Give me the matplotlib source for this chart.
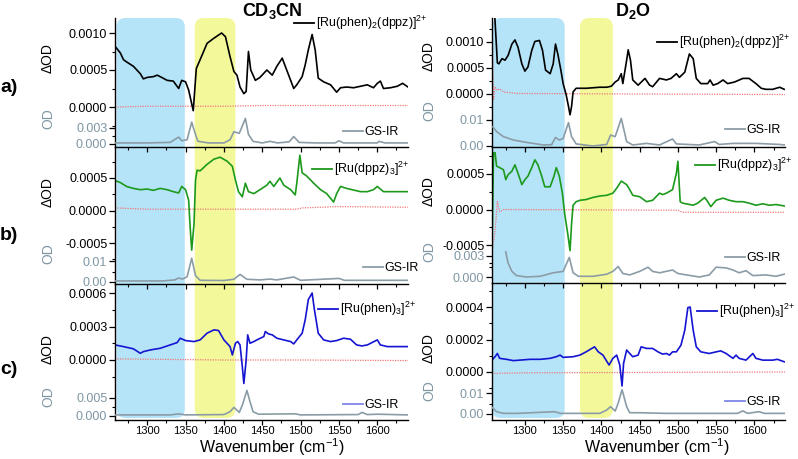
import matplotlib
matplotlib.use("Agg")
import matplotlib.pyplot as plt
from matplotlib.patches import FancyBboxPatch
from matplotlib.lines import Line2D
from matplotlib.ticker import FixedLocator, FormatStrFormatter

plt.rcParams['font.family'] = ['Liberation Sans', 'DejaVu Sans']
plt.rcParams['mathtext.fontset'] = 'custom'
plt.rcParams['mathtext.rm'] = 'Liberation Sans'
plt.rcParams['mathtext.it'] = 'Liberation Sans:italic'
plt.rcParams['mathtext.bf'] = 'Liberation Sans:bold'
plt.rcParams['axes.unicode_minus'] = False

# ---------------- data ----------------
# CD3CN, [Ru(phen)2(dppz)]2+
a1_wn = [1258, 1265, 1269, 1273, 1282, 1291, 1295, 1300, 1308, 1313, 1317, 1326, 1334, 1341, 1345,
         1350, 1354, 1357, 1360, 1361, 1364, 1369, 1378, 1387, 1397, 1402, 1408, 1413, 1417, 1421,
         1426, 1429, 1432, 1435, 1441, 1447, 1456, 1463, 1469, 1476, 1480, 1487, 1491, 1495, 1502,
         1506, 1510, 1515, 1519, 1523, 1530, 1539, 1547, 1552, 1560, 1569, 1578, 1587, 1595, 1600,
         1604, 1608, 1617, 1626, 1633, 1640]
a1_dod = [0.00082, 0.00073, 0.00064, 0.00061, 0.00055, 0.00045, 0.00038, 0.00040, 0.00041, 0.00043,
          0.00041, 0.00036, 0.00035, 0.00025, 0.00036, 0.00034, 0.00023, 0.00009, -0.00005, 0.00009,
          0.00052, 0.00064, 0.00086, 0.00093, 0.00100, 0.00095, 0.00068, 0.00048, 0.00043, 0.00027,
          0.00018, 0.00021, 0.00075, 0.00050, 0.00036, 0.00040, 0.00050, 0.00043, 0.00055, 0.00066,
          0.00055, 0.00036, 0.00025, 0.00030, 0.00041, 0.00057, 0.00077, 0.00098, 0.00077, 0.00039,
          0.00034, 0.00030, 0.00020, 0.00026, 0.00027, 0.00026, 0.00028, 0.00030, 0.00026, 0.00032,
          0.00035, 0.00025, 0.00026, 0.00028, 0.00032, 0.00027]
a1_base_wn = [1258, 1300, 1350, 1400, 1450, 1500, 1550, 1600, 1640]
a1_base = [0.0, 0.00001, 0.00001, 0.00001, 0.00002, 0.00002, 0.00002, 0.00002, 0.00002]
a1_gs_wn = [1258, 1300, 1330, 1341, 1345, 1352, 1358, 1362, 1366, 1380, 1400, 1408, 1413, 1420, 1428,
            1432, 1438, 1450, 1460, 1470, 1485, 1491, 1498, 1520, 1545, 1550, 1556, 1600, 1602, 1610, 1640]
a1_gs = [0.0002, 0.0002, 0.0003, 0.0013, 0.0006, 0.0008, 0.0041, 0.0022, 0.0005, 0.0002, 0.0002,
         0.0008, 0.0023, 0.0020, 0.0048, 0.0018, 0.0005, 0.0002, 0.0005, 0.0002, 0.0004, 0.0014,
         0.0003, 0.0002, 0.0002, 0.0006, 0.0002, 0.0002, 0.0005, 0.0002, 0.0002]

# CD3CN, [Ru(dppz)3]2+
b1_wn = [1258, 1265, 1273, 1282, 1291, 1300, 1308, 1317, 1326, 1334, 1341, 1345, 1350, 1354, 1356,
         1358, 1361, 1363, 1365, 1369, 1378, 1387, 1395, 1404, 1411, 1415, 1419, 1424, 1428, 1432,
         1439, 1447, 1456, 1460, 1465, 1473, 1478, 1487, 1493, 1495, 1499, 1502, 1508, 1517, 1526,
         1534, 1543, 1547, 1552, 1560, 1578, 1587, 1595, 1600, 1608, 1630, 1640]
b1_dod = [0.00046, 0.00043, 0.00037, 0.00034, 0.00032, 0.00033, 0.00031, 0.00034, 0.00032, 0.00029,
          0.00027, 0.00037, 0.00032, 0.00016, -0.00026, -0.00061, -0.00021, 0.00047, 0.00062, 0.00061,
          0.00071, 0.00079, 0.00082, 0.00076, 0.00068, 0.00047, 0.00029, 0.00021, 0.00042, 0.00029,
          0.00026, 0.00032, 0.00039, 0.00045, 0.00037, 0.00050, 0.00039, 0.00032, 0.00024, 0.00042,
          0.00085, 0.00058, 0.00053, 0.00042, 0.00032, 0.00026, 0.00013, 0.00026, 0.00037, 0.00034,
          0.00029, 0.00029, 0.00032, 0.00037, 0.00029, 0.00029, 0.00029]
b1_base_wn = [1258, 1300, 1400, 1495, 1502, 1550, 1640]
b1_base = [0.00004, 0.00002, 0.00002, 0.00002, 0.00004, 0.00006, 0.00005]
b1_gs_wn = [1258, 1320, 1336, 1341, 1346, 1352, 1358, 1363, 1369, 1400, 1413, 1421, 1430, 1447, 1460,
            1469, 1491, 1500, 1550, 1557, 1640]
b1_gs = [0.0005, 0.0005, 0.0010, 0.0019, 0.0014, 0.0025, 0.0113, 0.0030, 0.0008, 0.0007, 0.0013,
         0.0036, 0.0013, 0.0010, 0.0014, 0.0010, 0.0024, 0.0008, 0.0017, 0.0008, 0.0008]

# CD3CN, [Ru(phen)3]2+
c1_wn = [1258, 1269, 1282, 1291, 1295, 1304, 1317, 1330, 1339, 1343, 1350, 1361, 1369, 1378, 1387,
         1393, 1400, 1408, 1411, 1415, 1418, 1421, 1424, 1426, 1429, 1431, 1434, 1439, 1443, 1452,
         1454, 1458, 1463, 1469, 1478, 1487, 1491, 1495, 1502, 1506, 1510, 1515, 1518, 1523, 1530,
         1539, 1547, 1556, 1565, 1573, 1580, 1587, 1600, 1604, 1613, 1630, 1640]
c1_dod = [0.000135, 0.00012, 0.0001, 0.00006, 0.000075, 0.00009, 0.000105, 0.000135, 0.000156, 0.000195,
          0.000174, 0.000165, 0.00018, 0.00024, 0.00027, 0.000264, 0.00018, 0.00012, 0.000045, 0.00015,
          0.000165, 0.000135, -0.00006, -0.00021, 0.0, 0.000225, 0.00015, 0.000165, 0.00018, 0.00021,
          0.000255, 0.000234, 0.000225, 0.000195, 0.00018, 0.000165, 0.000144, 0.00018, 0.00024, 0.00036,
          0.00054, 0.0006, 0.00045, 0.00024, 0.00018, 0.000165, 0.000174, 0.000195, 0.000186, 0.000135,
          0.000126, 0.000135, 0.00018, 0.000135, 0.00012, 0.00012, 0.00012]
c1_base_wn = [1258, 1400, 1500, 1640]
c1_base = [0.00001, 0.0, 0.0, -0.000005]
c1_gs_wn = [1258, 1330, 1341, 1350, 1400, 1408, 1413, 1420, 1424, 1430, 1434, 1438, 1445, 1493, 1500,
            1575, 1580, 1587, 1600, 1640]
c1_gs = [0.0003, 0.0003, 0.0006, 0.0003, 0.0004, 0.0012, 0.0024, 0.0010, 0.0030, 0.0071, 0.0040,
         0.0012, 0.0005, 0.0006, 0.0003, 0.0004, 0.0010, 0.0004, 0.0005, 0.0003]

# D2O, [Ru(phen)2(dppz)]2+
a2_wn = [1258, 1261, 1264, 1266, 1270, 1274, 1278, 1283, 1287, 1291, 1296, 1300, 1304, 1309, 1313,
         1319, 1323, 1327, 1333, 1337, 1340, 1343, 1347, 1350, 1354, 1357, 1359, 1361, 1363, 1367,
         1380, 1398, 1407, 1413, 1418, 1422, 1426, 1428, 1433, 1435, 1438, 1441, 1448, 1457, 1463,
         1467, 1476, 1485, 1491, 1498, 1502, 1509, 1515, 1520, 1524, 1530, 1539, 1542, 1546, 1552,
         1559, 1565, 1574, 1585, 1593, 1602, 1609, 1615, 1624, 1633, 1639]
a2_dod = [0.0020, 0.0014, 0.0006, 0.00058, 0.00068, 0.00065, 0.00074, 0.00096, 0.00104, 0.00090,
          0.00058, 0.00044, 0.00052, 0.00084, 0.00101, 0.00103, 0.00084, 0.00046, 0.00039, 0.00058,
          0.00096, 0.00077, 0.00046, 0.0002, -0.00002, -0.00024, -0.0004, -0.00024, 0.00004, 0.00011,
          0.00011, 0.00013, 0.00013, 0.00015, 0.00023, 0.00027, 0.00039, 0.0002, 0.00065, 0.00085,
          0.00065, 0.00027, 0.00017, 0.0003, 0.00017, 0.00014, 0.0003, 0.00027, 0.0003, 0.00039,
          0.00032, 0.00042, 0.00077, 0.00068, 0.0003, 0.0002, 0.0002, 0.00027, 0.00017, 0.0002,
          0.00027, 0.0002, 0.00023, 0.0003, 0.0003, 0.0002, 0.00011, 0.00009, 0.00009, 0.00013, 0.00009]
a2_base_wn = [1257, 1259, 1261, 1264, 1267, 1272, 1290, 1450, 1640]
a2_base = [0.0014, -0.0001, 0.00013, 0.00007, 0.0001, 0.00004, 0.00001, 0.0, -0.00001]
a2_gs_wn = [1258, 1263, 1272, 1285, 1302, 1324, 1335, 1337, 1340, 1345, 1350, 1357, 1361, 1367, 1389,
            1407, 1412, 1418, 1426, 1433, 1441, 1459, 1476, 1493, 1498, 1528, 1548, 1554, 1572, 1602,
            1633, 1639]
a2_gs = [0.0074, 0.0055, 0.0036, 0.0023, 0.0014, 0.0004, 0.0005, 0.0017, 0.0033, 0.0023, 0.0029,
         0.0090, 0.0036, 0.0008, 0.0000, 0.0006, 0.0042, 0.0036, 0.0106, 0.0017, 0.0004, 0.0010,
         0.0004, 0.0027, 0.0008, 0.0004, 0.0017, 0.0006, 0.0010, 0.0010, 0.0006, 0.0004]

# D2O, [Ru(dppz)3]2+
b2_wn = [1257, 1259, 1261, 1263, 1267, 1272, 1275, 1278, 1283, 1287, 1291, 1296, 1300, 1304, 1309,
         1313, 1317, 1322, 1326, 1333, 1338, 1341, 1345, 1349, 1352, 1356, 1359, 1361, 1363, 1367,
         1372, 1380, 1389, 1398, 1407, 1415, 1420, 1426, 1433, 1437, 1441, 1450, 1459, 1467, 1476,
         1480, 1485, 1493, 1498, 1500, 1503, 1506, 1520, 1526, 1535, 1539, 1543, 1550, 1559, 1567,
         1576, 1585, 1593, 1602, 1611, 1620, 1628, 1639]
b2_dod = [-0.00058, 0.0008, 0.0008, 0.00061, 0.00059, 0.00056, 0.00042, 0.00049, 0.00054, 0.00063,
          0.00051, 0.00035, 0.00042, 0.00047, 0.00059, 0.0007, 0.00063, 0.00047, 0.00032, 0.00032,
          0.00047, 0.00059, 0.00047, 0.00023, -0.00006, -0.00034, -0.00058, -0.0002, 0.00006, 0.00011,
          0.00013, 0.00014, 0.00017, 0.00019, 0.0002, 0.00023, 0.0003, 0.0004, 0.00035, 0.00028,
          0.0002, 0.00018, 0.00011, 0.00013, 0.00023, 0.00021, 0.00023, 0.00028, 0.00051, 0.00068,
          0.00011, 0.00009, 0.00006, 0.00009, 0.00017, 0.00011, 0.00004, 0.00013, 0.00016, 0.00013,
          0.00011, 0.00011, 0.00009, 0.00006, 0.00008, 0.00006, 0.00007, 0.00005]
b2_base_wn = [1257, 1261, 1264, 1267, 1272, 1500, 1506, 1639]
b2_base = [-0.0006, -0.0003, 0.00011, -0.00003, 0.0, -0.00001, -0.00004, -0.00004]
b2_gs_wn = [1275, 1278, 1283, 1289, 1302, 1320, 1337, 1350, 1358, 1363, 1370, 1389, 1407, 1415, 1422,
            1428, 1437, 1450, 1461, 1467, 1476, 1493, 1500, 1511, 1528, 1541, 1550, 1563, 1572, 1580,
            1589, 1598, 1615, 1628, 1639]
b2_gs = [0.0036, 0.0020, 0.0008, 0.0002, 0.0000, 0.0001, 0.0006, 0.0008, 0.0028, 0.0006, 0.0001,
         0.0001, 0.0004, 0.0008, 0.0015, 0.0005, 0.0003, 0.0008, 0.0014, 0.0008, 0.0006, 0.0010,
         0.0005, 0.0003, 0.0000, 0.0003, 0.0014, 0.0013, 0.0010, 0.0006, 0.0009, 0.0002, 0.0003,
         0.0001, 0.0004]

# D2O, [Ru(phen)3]2+
c2_wn = [1257, 1261, 1264, 1267, 1276, 1285, 1293, 1307, 1320, 1333, 1341, 1346, 1350, 1363, 1372,
         1380, 1391, 1396, 1402, 1410, 1415, 1420, 1424, 1427, 1429, 1433, 1437, 1441, 1448, 1452,
         1459, 1467, 1474, 1480, 1485, 1489, 1493, 1498, 1504, 1509, 1513, 1516, 1520, 1524, 1530,
         1541, 1550, 1556, 1563, 1572, 1576, 1580, 1589, 1598, 1602, 1611, 1624, 1630, 1639]
c2_dod = [0.000073, 0.000094, 0.000114, 0.000084, 0.000078, 0.00007, 0.000073, 0.000078, 0.000078,
          0.000084, 0.000094, 0.000104, 0.00009, 0.000094, 0.000104, 0.000124, 0.000155, 0.000124,
          0.000104, 0.000043, 0.000084, 0.000104, 0.000043, -0.000086, 0.000053, 0.000135, 0.000114,
          0.000094, 0.000104, 0.000155, 0.000145, 0.000145, 0.000124, 0.00011, 0.000114, 0.000104,
          0.000124, 0.000124, 0.000165, 0.000257, 0.000396, 0.0004, 0.000257, 0.000155, 0.000124,
          0.000114, 0.000124, 0.00013, 0.000114, 0.000084, 0.000104, 0.000084, 0.000073, 0.000114,
          0.000084, 0.000073, 0.000073, 0.000078, 0.000063]
c2_base_wn = [1257, 1262, 1265, 1300, 1640]
c2_base = [0.0, -0.00001, -0.000008, -0.000005, 0.0]
c2_gs_wn = [1257, 1263, 1272, 1289, 1339, 1346, 1398, 1407, 1412, 1418, 1422, 1427, 1433, 1437, 1450,
            1485, 1578, 1585, 1591, 1606, 1613, 1639]
c2_gs = [0.0032, 0.0011, 0.0003, 0.0003, 0.0011, 0.0003, 0.0003, 0.0019, 0.0035, 0.0014, 0.0052,
         0.0116, 0.0035, 0.0006, 0.0006, 0.0003, 0.0003, 0.0015, 0.0003, 0.0011, 0.0003, 0.0003]

labels = ['[Ru(phen)$_2$(dppz)]$^{2{+}}$', '[Ru(dppz)$_3$]$^{2{+}}$', '[Ru(phen)$_3$]$^{2{+}}$']
colors = ['black', '#1c9a1c', '#1414d2']
# highlighted regions (cm-1): blue, yellow
bands_cd3cn = [(1260, 1349), (1362, 1415)]
bands_d2o = [(1257, 1352), (1372, 1415)]

GREY = '#8b9ca6'
TICKGREY = '#7f96a3'
W, H = 798, 459

fig = plt.figure(figsize=(W / 100, H / 100), dpi=100)


def rect(x0, x1, top, bot):
    return [x0 / W, 1 - bot / H, (x1 - x0) / W, (bot - top) / H]


def lims(v1, p1, v2, p2, top, bot):
    # y limits so that value v1 sits at pixel p1 and v2 at p2
    k = (v1 - v2) / (p2 - p1)
    return v2 - (bot - p2) * k, v1 + (p1 - top) * k


def panel(box, xlim, wn, dod, color, label, bwn, base, gwn, gs,
          dticks, dpx, dfmt, oticks, opx, ofmt, leg, gleg, gcolor, xlabels):
    x0, x1, top, bot = box
    ax = fig.add_axes(rect(x0, x1, top, bot), facecolor='none')
    ax2 = fig.add_axes(rect(x0, x1, top, bot), facecolor='none', sharex=ax)
    ax.set_xlim(*xlim)
    ax.set_ylim(*lims(dticks[-1], dpx[0], dticks[0], dpx[1], top, bot))
    ax2.set_ylim(*lims(oticks[-1], opx[0], oticks[0], opx[1], top, bot))

    ax.plot(bwn, base, color='#f07878', lw=0.9, ls=(0, (1, 1)))
    ax.plot(wn, dod, color=color, lw=1.2)
    ax2.plot(gwn, gs, color=GREY, lw=1.2)

    for s in ['top', 'right']:
        ax.spines[s].set_visible(False)
    for s in ax2.spines.values():
        s.set_visible(False)
    ax.spines['left'].set_linewidth(1.0)
    ax.spines['bottom'].set_linewidth(1.0)

    step = dticks[1] - dticks[0]
    ax.yaxis.set_major_locator(FixedLocator(dticks))
    ax.yaxis.set_minor_locator(FixedLocator([t + step / 2 for t in dticks] + [dticks[0] - step / 2]))
    ax.yaxis.set_major_formatter(FormatStrFormatter(dfmt))
    ax.tick_params(axis='y', which='major', direction='out', length=4, width=0.9, labelsize=9, pad=1.5)
    ax.tick_params(axis='y', which='minor', direction='out', length=2.2, width=0.8)

    ostep = oticks[1] - oticks[0]
    ax2.yaxis.set_major_locator(FixedLocator(oticks))
    ax2.yaxis.set_minor_locator(FixedLocator([oticks[0] + ostep / 2]))
    ax2.yaxis.set_major_formatter(FormatStrFormatter(ofmt))
    ax2.tick_params(axis='y', which='major', direction='out', length=4, width=0.9, labelsize=9,
                    pad=1.5, labelcolor=TICKGREY)
    ax2.tick_params(axis='y', which='minor', direction='out', length=2.2, width=0.8)
    ax2.tick_params(axis='x', which='both', bottom=False, labelbottom=False)

    ax.set_xticks([1300, 1350, 1400, 1450, 1500, 1550, 1600])
    ax.set_xticks([1275, 1325, 1375, 1425, 1475, 1525, 1575, 1625], minor=True)
    ax.tick_params(axis='x', which='major', direction='out', length=3.5, width=0.9, labelsize=8,
                   pad=1, labelbottom=xlabels)
    ax.tick_params(axis='x', which='minor', direction='out', length=2.2, width=0.8)

    h1 = Line2D([], [], color=color, lw=1.3)
    ax.legend([h1], [label], loc='center left', bbox_to_anchor=leg, frameon=False,
              fontsize=9, borderpad=0, borderaxespad=0, handlelength=1.6, handletextpad=0.15)
    h2 = Line2D([], [], color=gcolor, lw=1.3)
    ax2.legend([h2], ['GS-IR'], loc='center left', bbox_to_anchor=gleg, frameon=False,
               fontsize=9, borderpad=0, borderaxespad=0, handlelength=1.6, handletextpad=0.15)
    return ax


left = (115, 408)
right = (492, 785)
xl_left = (1258, 1640)
xl_right = (1257, 1640)

pa1 = panel((*left, 18, 147), xl_left, a1_wn, a1_dod, colors[0], labels[0], a1_base_wn, a1_base,
            a1_gs_wn, a1_gs, [0.0, 0.0005, 0.0010], (33, 107), '%.4f', [0.0, 0.003], (128, 144), '%.3f',
            (0.61, 0.96), (0.778, 0.116), GREY, False)
pb1 = panel((*left, 147, 284), xl_left, b1_wn, b1_dod, colors[1], labels[1], b1_base_wn, b1_base,
            b1_gs_wn, b1_gs, [-0.0005, 0.0, 0.0005], (178, 243), '%.4f', [0.0, 0.01], (261, 282), '%.2f',
            (0.672, 0.839), (0.846, 0.117), GREY, False)
pc1 = panel((*left, 284, 420), xl_left, c1_wn, c1_dod, colors[2], labels[2], c1_base_wn, c1_base,
            c1_gs_wn, c1_gs, [0.0, 0.0003, 0.0006], (293, 360), '%.4f', [0.0, 0.005], (398, 416), '%.3f',
            (0.693, 0.816), (0.778, 0.11), '#7d86e6', True)
pa2 = panel((*right, 18, 147), xl_right, a2_wn, a2_dod, colors[0], labels[0], a2_base_wn, a2_base,
            a2_gs_wn, a2_gs, [0.0, 0.0005, 0.0010], (42, 94), '%.4f', [0.0, 0.01], (120, 146), '%.2f',
            (0.563, 0.814), (0.795, 0.132), GREY, False)
pb2 = panel((*right, 147, 283), xl_right, b2_wn, b2_dod, colors[1], labels[1], b2_base_wn, b2_base,
            b2_gs_wn, b2_gs, [-0.0005, 0.0, 0.0005], (174, 245), '%.4f', [0.0, 0.003], (256, 277), '%.3f',
            (0.693, 0.868), (0.795, 0.184), GREY, False)
pc2 = panel((*right, 283, 420), xl_right, c2_wn, c2_dod, colors[2], labels[2], c2_base_wn, c2_base,
            c2_gs_wn, c2_gs, [0.0, 0.0002, 0.0004], (307, 372), '%.4f', [0.0, 0.01], (393, 414), '%.2f',
            (0.70, 0.796), (0.795, 0.131), '#7d86e6', True)

# rounded highlight bands spanning the three rows of a column
inv = fig.transFigure.inverted()
for ax, bands in [(pc1, bands_cd3cn), (pc2, bands_d2o)]:
    for (b0, b1), fc in zip(bands, ['#b5e4f9', '#f3f99a']):
        fx0 = inv.transform(ax.transData.transform((b0, 0)))[0]
        fx1 = inv.transform(ax.transData.transform((b1, 0)))[0]
        yb, yt = 1 - 418 / H, 1 - 18 / H
        p = FancyBboxPatch((fx0, yb), fx1 - fx0, yt - yb,
                           boxstyle='round,pad=0,rounding_size=%f' % (9 / W),
                           mutation_aspect=W / H, transform=fig.transFigure,
                           fc=fc, ec='none', zorder=-5)
        fig.patches.append(p)

# titles, row labels, axis labels
fig.text(272 / W, 1 - 11 / H, r'$\mathbf{CD_3CN}$', ha='center', va='center', fontsize=13)
fig.text(633 / W, 1 - 11 / H, r'$\mathbf{D_2O}$', ha='center', va='center', fontsize=13)
for t, y in zip(['a)', 'b)', 'c)'], [87, 236, 370]):
    fig.text(9 / W, 1 - y / H, t, ha='center', va='center', fontsize=14, fontweight='bold')

for x, ys in [(48, [(58, 119), (192, 254), (349, 397)]), (429, [(56, 111), (191, 252), (348, 391)])]:
    for yd, yo in ys:
        fig.text(x / W, 1 - yd / H, 'ΔOD', rotation=90, ha='center', va='center', fontsize=10)
        fig.text(x / W, 1 - yo / H, 'OD', rotation=90, ha='center', va='center', fontsize=10,
                 color=TICKGREY)

fig.text(272 / W, 1 - 457.5 / H, 'Wavenumber (cm$^{-1}$)', ha='center', va='bottom', fontsize=11.5)
fig.text(657 / W, 1 - 457.5 / H, 'Wavenumber (cm$^{-1}$)', ha='center', va='bottom', fontsize=11.5)

fig.savefig('out.png', dpi=100)
